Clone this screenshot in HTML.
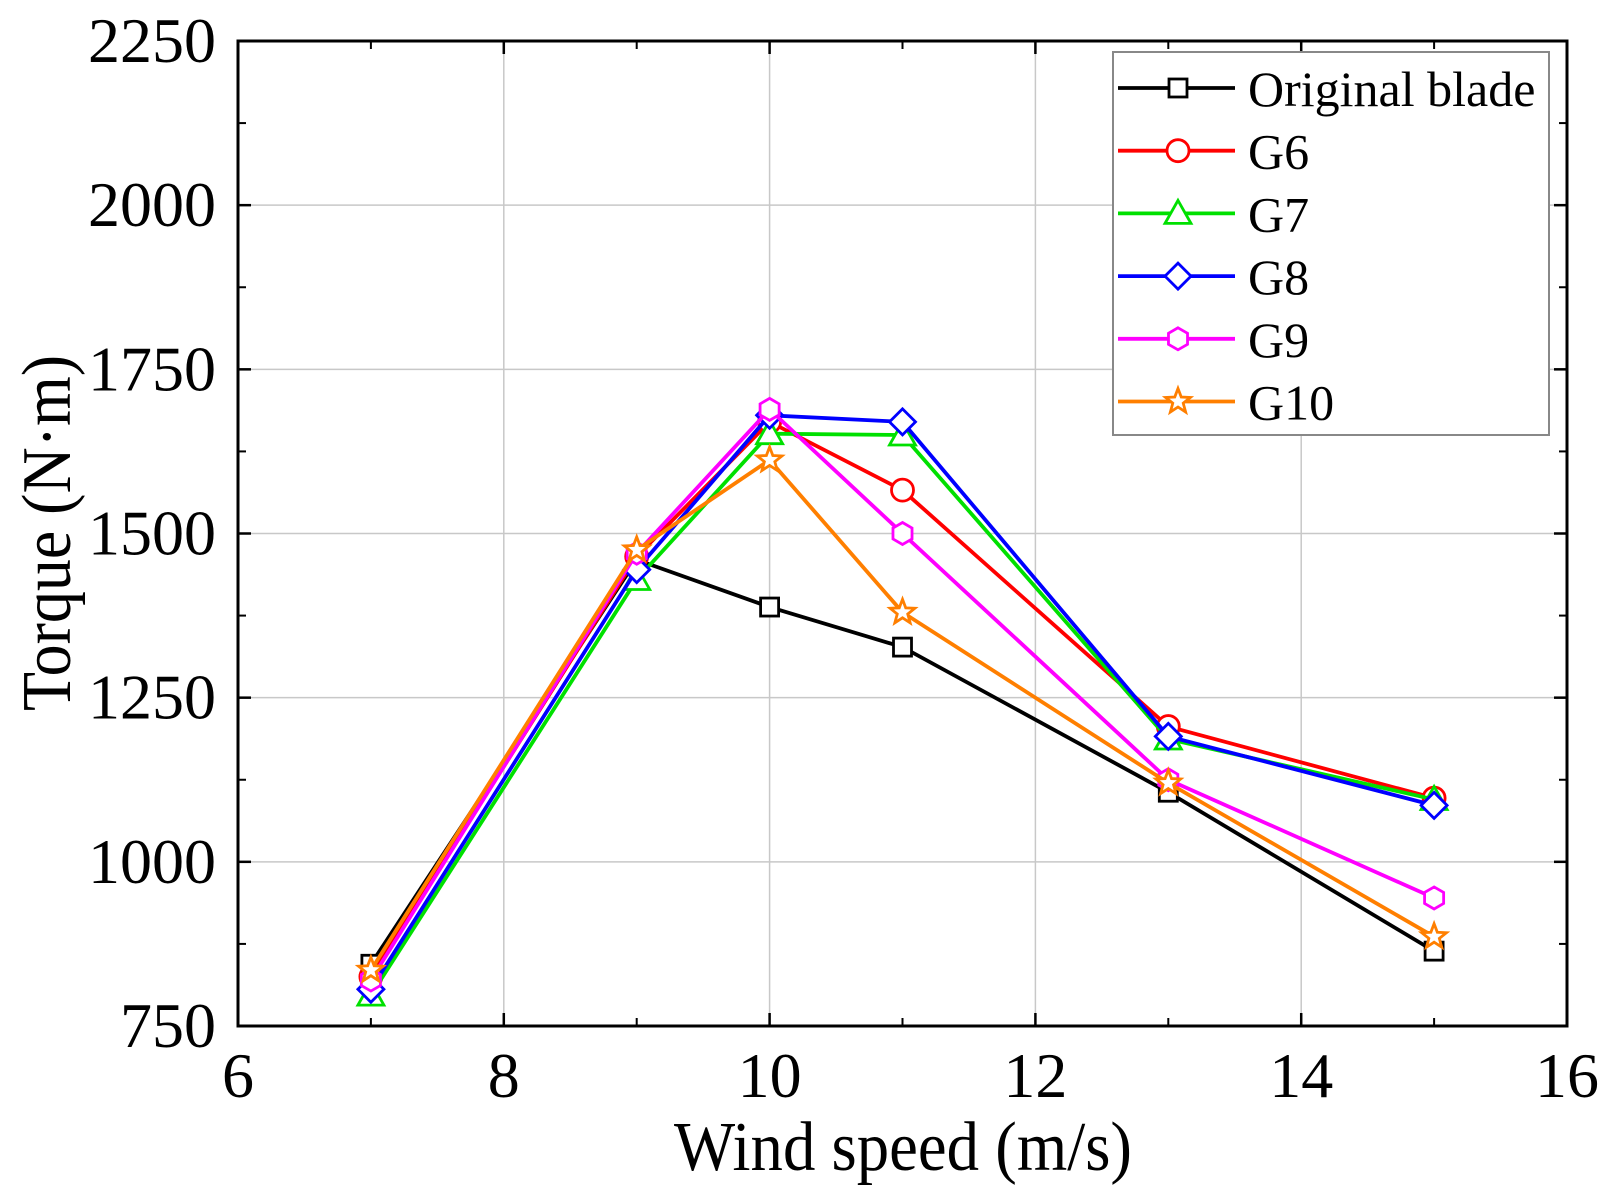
<!DOCTYPE html>
<html><head><meta charset="utf-8"><style>
html,body{margin:0;padding:0;background:#fff;}
svg{display:block;font-family:"Liberation Serif",serif;}
</style></head><body>
<svg id="chart" width="1609" height="1193" viewBox="0 0 1609 1193" xmlns="http://www.w3.org/2000/svg">
<g id="grid"></g>
<g id="axes"></g>
<g id="series"></g>
<g id="legend"></g>
<text x="674" y="1170" font-size="70" textLength="458" lengthAdjust="spacingAndGlyphs">Wind speed (m/s)</text>
<text transform="translate(70,533) rotate(-90)" font-size="70" text-anchor="middle" textLength="356" lengthAdjust="spacingAndGlyphs">Torque (N·m)</text>
</svg>
<script>
const windSpeeds = [7, 9, 10, 11, 13, 15];
const originalBlade = [844, 1460, 1388, 1327, 1106, 864];
const g6 = [825, 1465, 1670, 1566, 1206, 1097];
const g7 = [797, 1430, 1652, 1650, 1187, 1095];
const g8 = [806, 1445, 1680, 1670, 1191, 1086];
const g9 = [820, 1470, 1689, 1500, 1125, 945];
const g10 = [835, 1475, 1612, 1380, 1120, 886];
const seriesNames = ["Original blade", "G6", "G7", "G8", "G9", "G10"];
const xTicks = [6, 8, 10, 12, 14, 16];
const yTicks = [750, 1000, 1250, 1500, 1750, 2000, 2250];

const NS = "http://www.w3.org/2000/svg";
const X0 = 238, X1 = 1567, Y0 = 1026, Y1 = 41;
const xs = v => X0 + (v - 6) / 10 * (X1 - X0);
const ys = v => Y0 - (v - 750) / 1500 * (Y0 - Y1);
function mk(tag, attrs, parent) {
  const e = document.createElementNS(NS, tag);
  for (const k in attrs) e.setAttribute(k, attrs[k]);
  parent.appendChild(e);
  return e;
}
const grid = document.getElementById('grid');
const axes = document.getElementById('axes');
const series = document.getElementById('series');
const legend = document.getElementById('legend');

xTicks.forEach(t => {
  const x = xs(t);
  if (t > 6 && t < 16) {
    const l = mk('line', {x1: x, x2: x, y1: Y1, y2: Y0, stroke: '#c8c8c8', 'stroke-width': 1.5}, grid);
    
    
  }
  mk('line', {x1: x, x2: x, y1: Y0, y2: Y0 - 13, stroke: '#000', 'stroke-width': 2.5}, axes);
  mk('line', {x1: x, x2: x, y1: Y1, y2: Y1 + 13, stroke: '#000', 'stroke-width': 2.5}, axes);
  const tx = mk('text', {x: x, y: 1097, 'font-size': 64, 'text-anchor': 'middle'}, axes);
  tx.textContent = t;
  
  
});
[7, 9, 11, 13, 15].forEach(t => {
  mk('line', {x1: xs(t), x2: xs(t), y1: Y0, y2: Y0 - 8, stroke: '#000', 'stroke-width': 2}, axes);
  mk('line', {x1: xs(t), x2: xs(t), y1: Y1, y2: Y1 + 8, stroke: '#000', 'stroke-width': 2}, axes);
});
yTicks.forEach(t => {
  const y = ys(t);
  if (t > 750 && t < 2250) {
    const l = mk('line', {x1: X0, x2: X1, y1: y, y2: y, stroke: '#c8c8c8', 'stroke-width': 1.5}, grid);
    
    
  }
  mk('line', {x1: X0, x2: X0 + 13, y1: y, y2: y, stroke: '#000', 'stroke-width': 2.5}, axes);
  mk('line', {x1: X1, x2: X1 - 13, y1: y, y2: y, stroke: '#000', 'stroke-width': 2.5}, axes);
  if (t < 2250) {
    mk('line', {x1: X0, x2: X0 + 8, y1: ys(t + 125), y2: ys(t + 125), stroke: '#000', 'stroke-width': 2}, axes);
    mk('line', {x1: X1, x2: X1 - 8, y1: ys(t + 125), y2: ys(t + 125), stroke: '#000', 'stroke-width': 2}, axes);
  }
  const tx = mk('text', {x: 216, y: y + 21, 'font-size': 64, 'text-anchor': 'end'}, axes);
  tx.textContent = t;
  
  
});
const frame = mk('rect', {x: X0, y: Y1, width: X1 - X0, height: Y0 - Y1, fill: 'none', stroke: '#000', 'stroke-width': 3}, axes);



const colors = ['#000000', '#ff0000', '#00e000', '#0000ff', '#ff00ff', '#ff7f00'];
const shapes = ['square', 'circle', 'triangle', 'diamond', 'hexagon', 'star'];
const data = [originalBlade, g6, g7, g8, g9, g10];

function marker(shape, cx, cy, color, parent) {
  const a = {fill: '#fff', stroke: color, 'stroke-width': 2.8};
  const r = 11;
  let pts;
  if (shape === 'square') return mk('rect', Object.assign({x: cx - 9, y: cy - 9, width: 18, height: 18}, a), parent);
  if (shape === 'circle') return mk('circle', Object.assign({cx: cx, cy: cy, r: r}, a), parent);
  if (shape === 'triangle') pts = [[0, -r - 2], [r + 2, r - 1], [-r - 2, r - 1]];
  if (shape === 'diamond') pts = [[0, -r - 2], [r + 2, 0], [0, r + 2], [-r - 2, 0]];
  if (shape === 'hexagon') { pts = []; for (let i = 0; i < 6; i++) { const an = i * Math.PI / 3 - Math.PI / 2; pts.push([r * Math.cos(an), r * Math.sin(an)]); } }
  if (shape === 'star') { pts = []; for (let i = 0; i < 10; i++) { const rr = i % 2 ? 5.5 : 13; const an = -Math.PI / 2 + i * Math.PI / 5; pts.push([rr * Math.cos(an), rr * Math.sin(an)]); } }
  return mk('polygon', Object.assign({points: pts.map(p => (cx + p[0]) + ',' + (cy + p[1])).join(' ')}, a), parent);
}

data.forEach((vals, si) => {
  const g = mk('g', {}, series);
  
  
  const pl = mk('polyline', {points: vals.map((v, i) => xs(windSpeeds[i]) + ',' + ys(v)).join(' '), fill: 'none', stroke: colors[si], 'stroke-width': 3.8}, g);
  
  
  vals.forEach((v, i) => {
    const m = marker(shapes[si], xs(windSpeeds[i]), ys(v), colors[si], g);
    
    
  });
});

const box = mk('rect', {x: 1113, y: 52, width: 436, height: 383, fill: '#fff', stroke: '#888', 'stroke-width': 2}, legend);


seriesNames.forEach((n, i) => {
  const y = 88 + i * 62.7;
  const g = mk('g', {}, legend);
  
  
  mk('line', {x1: 1118, x2: 1235, y1: y, y2: y, stroke: colors[i], 'stroke-width': 3.8}, g);
  marker(shapes[i], 1178, y, colors[i], g);
  const t = mk('text', {x: 1248, y: y + 18, 'font-size': 50}, g);
  t.textContent = n;
});
</script>
</body></html>
